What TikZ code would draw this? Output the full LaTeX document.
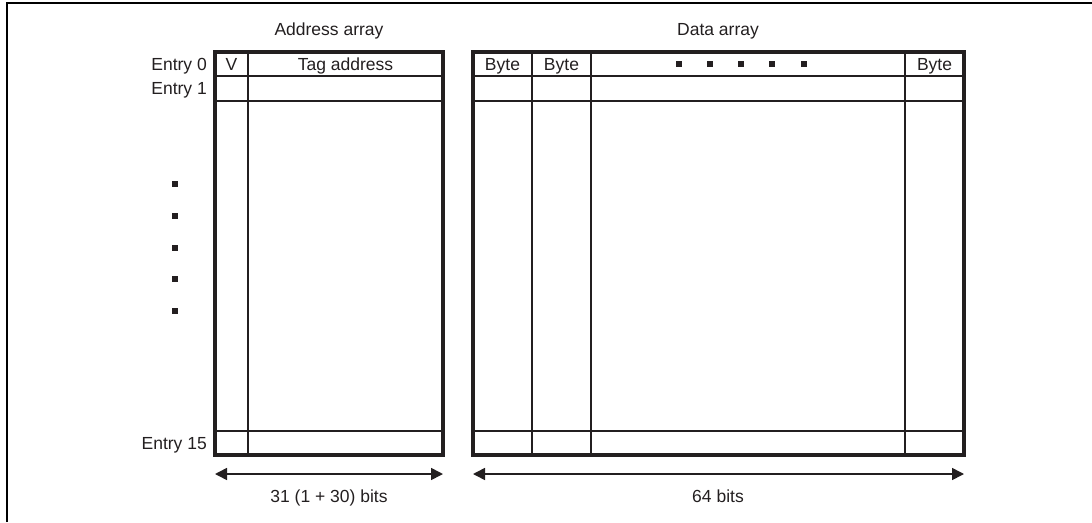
\documentclass[tikz,border=0pt]{standalone}
\usepackage{fontspec}
\setmainfont{Liberation Sans}
\usetikzlibrary{arrows.meta,positioning,calc}
\definecolor{ink}{RGB}{35,31,32}
\tikzset{
  >={Triangle[length=12pt,width=12pt]},
  lbl/.style={font=\fontsize{17.5}{20}\selectfont,text=ink,inner sep=0pt,anchor=base},
  arr/.style={draw=ink,line width=3.2pt,minimum width=#1,minimum height=403pt,
    inner sep=0pt,outer sep=0pt,anchor=north west},
  cell/.style={draw=ink,line width=1.6pt},
  sqdot/.style={fill=ink,minimum size=5.5pt,inner sep=0pt},
  dimline/.style={<->,draw=ink,line width=1.6pt},
}

\begin{document}
\begin{tikzpicture}[x=1pt,y=-1pt]
  \useasboundingbox (0,0) rectangle (1092,522);
  \draw[black,line width=2.8pt] (7,522) -- (7,3) -- (1092,3);
  % address array
  \node[lbl] (atitle) at (329,35) {Address array};
  \foreach \y in {76,101,431} \draw[cell] (215,\y) -- (443,\y);
  \draw[cell] (248,52) -- (248,455);
  \node[arr=228pt] (addr) at (215,52) {};
  \node[lbl] (vbit) at (231.5,70) {V};
  \node[lbl] (tag) at (345.5,70) {Tag address};
  \node[lbl,anchor=base east] (e0) at (207,70) {Entry 0};
  \node[lbl,anchor=base east] (e1) at (207,94.5) {Entry 1};
  \node[lbl,anchor=base east] (e15) at (207,449.5) {Entry 15};
  \foreach \y [count=\i] in {184,216,248,279,311}
    \node[sqdot] (vd\i) at (175,\y) {};
  % data array
  \node[lbl] (dtitle) at (718,35) {Data array};
  \foreach \y in {76,101,431} \draw[cell] (473,\y) -- (964,\y);
  \foreach \x in {532,591,905} \draw[cell] (\x,52) -- (\x,455);
  \node[arr=491pt] (data) at (473,52) {};
  \foreach \x [count=\i] in {502.5,561.5,934.5}
    \node[lbl] (byte\i) at (\x,70) {Byte};
  \foreach \x [count=\i] in {679,710,741,772,804}
    \node[sqdot] (hd\i) at (\x,64) {};
  % widths
  \coordinate (al) at (215,474);
  \coordinate (ar) at (443,474);
  \coordinate (dl) at (473,474);
  \coordinate (dr) at (964,474);
  \draw[dimline] (al) -- (ar);
  \draw[dimline] (dl) -- (dr);
  \node[lbl] (abits) at (329,502) {31 (1 + 30) bits};
  \node[lbl] (dbits) at (718,502) {64 bits};
\end{tikzpicture}
\end{document}
